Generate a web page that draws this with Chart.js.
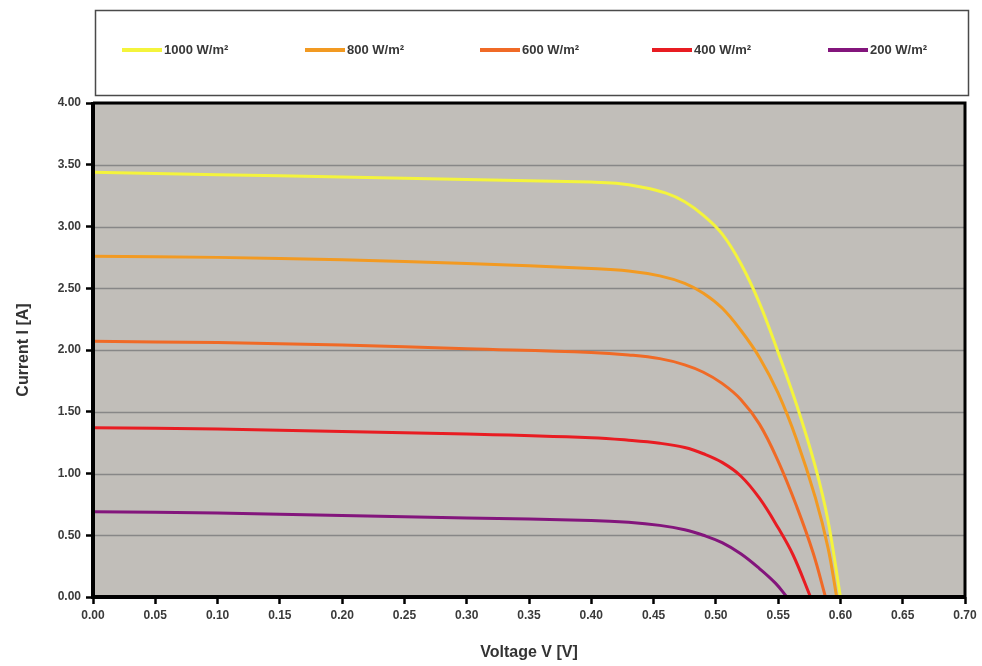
<!DOCTYPE html>
<html>
<head>
<meta charset="utf-8">
<title>I-V curves</title>
<script src="https://cdn.jsdelivr.net/npm/chart.js@4/dist/chart.umd.min.js"></script>
<style>
  html, body { margin: 0; padding: 0; background: #fff; }
  #wrap { width: 982px; height: 666px; }
</style>
</head>
<body>
<div id="wrap"><canvas id="iv"></canvas></div>
<script>
// irradiance levels and their curve colours
const labels = ['1000 W/m²', '800 W/m²', '600 W/m²', '400 W/m²', '200 W/m²'];
const colors = ['#f4f43c', '#f29a22', '#f06a26', '#e81c22', '#83157c'];

// voltage (V) / current (A) samples per irradiance
const v1000 = [0.00, 0.10, 0.20, 0.30, 0.40, 0.42, 0.44, 0.46, 0.475, 0.49, 0.505, 0.52, 0.535, 0.55, 0.565, 0.58, 0.59, 0.600];
const i1000 = [3.44, 3.42, 3.40, 3.38, 3.36, 3.35, 3.32, 3.27, 3.20, 3.09, 2.94, 2.70, 2.38, 1.98, 1.55, 1.05, 0.62, 0.00];

const v800 = [0.00, 0.10, 0.20, 0.30, 0.40, 0.43, 0.455, 0.475, 0.49, 0.505, 0.52, 0.535, 0.55, 0.565, 0.58, 0.59, 0.597];
const i800 = [2.76, 2.75, 2.73, 2.70, 2.66, 2.64, 2.60, 2.54, 2.46, 2.34, 2.16, 1.94, 1.65, 1.27, 0.80, 0.40, 0.00];

const v600 = [0.00, 0.10, 0.20, 0.30, 0.40, 0.43, 0.455, 0.475, 0.49, 0.505, 0.52, 0.535, 0.55, 0.565, 0.578, 0.588];
const i600 = [2.07, 2.06, 2.04, 2.01, 1.98, 1.96, 1.93, 1.88, 1.82, 1.73, 1.60, 1.40, 1.10, 0.73, 0.36, 0.00];

const v400 = [0.00, 0.10, 0.20, 0.30, 0.40, 0.43, 0.455, 0.475, 0.49, 0.505, 0.52, 0.535, 0.55, 0.562, 0.576];
const i400 = [1.37, 1.36, 1.34, 1.32, 1.29, 1.27, 1.245, 1.21, 1.16, 1.09, 0.98, 0.80, 0.56, 0.34, 0.00];

const v200 = [0.00, 0.10, 0.20, 0.30, 0.40, 0.43, 0.455, 0.475, 0.49, 0.505, 0.52, 0.535, 0.548, 0.557];
const i200 = [0.69, 0.68, 0.66, 0.64, 0.62, 0.605, 0.58, 0.545, 0.50, 0.44, 0.35, 0.23, 0.11, 0.00];

const voltages = [v1000, v800, v600, v400, v200];
const currents = [i1000, i800, i600, i400, i200];

const toPoints = (vs, is) => vs.map((v, k) => ({ x: v, y: is[k] }));

// grey plot panel with a black frame
const panel = {
  id: 'panel',
  beforeDatasetsDraw(chart) {
    const { ctx, chartArea: a } = chart;
    ctx.save();
    ctx.fillStyle = '#c1beb9';
    ctx.fillRect(a.left, a.top, a.right - a.left, a.bottom - a.top);
    // horizontal grid on top of the fill
    const y = chart.scales.y;
    ctx.strokeStyle = '#878787';
    ctx.lineWidth = 1.5;
    y.ticks.forEach((t) => {
      const py = Math.round(y.getPixelForValue(t.value)) + 0.5;
      ctx.beginPath();
      ctx.moveTo(a.left, py);
      ctx.lineTo(a.right, py);
      ctx.stroke();
    });
    ctx.restore();
  },
  afterDatasetsDraw(chart) {
    const { ctx, chartArea: a } = chart;
    ctx.save();
    ctx.strokeStyle = '#000';
    ctx.lineWidth = 3;
    ctx.beginPath();
    ctx.moveTo(a.left, a.top);
    ctx.lineTo(a.right, a.top);
    ctx.lineTo(a.right, a.bottom);
    ctx.stroke();
    ctx.lineWidth = 4;
    ctx.beginPath();
    ctx.moveTo(a.left, a.top - 1);
    ctx.lineTo(a.left, a.bottom);
    ctx.lineTo(a.right + 1, a.bottom);
    ctx.stroke();
    ctx.restore();
  }
};

// boxed legend above the plot
const legendBox = {
  id: 'legendBox',
  afterDraw(chart) {
    const { ctx } = chart;
    const starts = [122, 305, 480, 652, 828];
    ctx.save();
    ctx.fillStyle = '#fff';
    ctx.fillRect(95, 10, 873, 85);
    ctx.strokeStyle = '#4a4a4a';
    ctx.lineWidth = 1.5;
    ctx.strokeRect(95.5, 10.5, 873, 85);
    ctx.font = 'bold 13px "Liberation Sans", Arial, sans-serif';
    ctx.textBaseline = 'middle';
    chart.data.datasets.forEach((ds, k) => {
      const x = starts[k];
      ctx.strokeStyle = ds.borderColor;
      ctx.lineWidth = 4;
      ctx.beginPath();
      ctx.moveTo(x, 50);
      ctx.lineTo(x + 40, 50);
      ctx.stroke();
      ctx.fillStyle = '#383838';
      ctx.fillText(ds.label, x + 42, 50);
    });
    ctx.restore();
  }
};

const tickFont = { family: '"Liberation Sans", Arial, sans-serif', size: 12, weight: 'bold' };
const titleFont = { family: '"Liberation Sans", Arial, sans-serif', size: 16, weight: 'bold' };

new Chart(document.getElementById('iv'), {
  type: 'line',
  data: {
    datasets: labels.map((label, k) => ({
      label,
      data: toPoints(voltages[k], currents[k]),
      borderColor: colors[k],
      backgroundColor: colors[k],
      borderWidth: 3,
      pointRadius: 0,
      tension: 0.4,
      fill: false
    }))
  },
  options: {
    responsive: true,
    maintainAspectRatio: false,
    animation: false,
    layout: { padding: { top: 103, right: 17, left: 0, bottom: 0 } },
    plugins: {
      legend: { display: false },
      tooltip: { enabled: false }
    },
    scales: {
      x: {
        type: 'linear',
        min: 0,
        max: 0.7,
        afterFit(scale) { scale.height = 69; },
        ticks: {
          stepSize: 0.05,
          color: '#3a3a3a',
          font: tickFont,
          padding: 4,
          callback: (v) => v.toFixed(2)
        },
        grid: { drawOnChartArea: false, drawTicks: true, tickLength: 7, tickColor: '#000', tickWidth: 2.5 },
        border: { display: false },
        title: { display: true, text: 'Voltage V [V]', color: '#333', font: titleFont, padding: { top: 4 } }
      },
      y: {
        min: 0,
        max: 4,
        afterFit(scale) { scale.width = 93; },
        ticks: {
          stepSize: 0.5,
          color: '#3a3a3a',
          font: tickFont,
          padding: 5,
          callback: (v) => v.toFixed(2)
        },
        grid: { drawOnChartArea: false, drawTicks: true, tickLength: 7, tickColor: '#000', tickWidth: 2.5 },
        border: { display: false },
        title: { display: true, text: 'Current I [A]', color: '#333', font: titleFont, padding: { top: 14, bottom: 4 } }
      }
    }
  },
  plugins: [panel, legendBox]
});
</script>
</body>
</html>
